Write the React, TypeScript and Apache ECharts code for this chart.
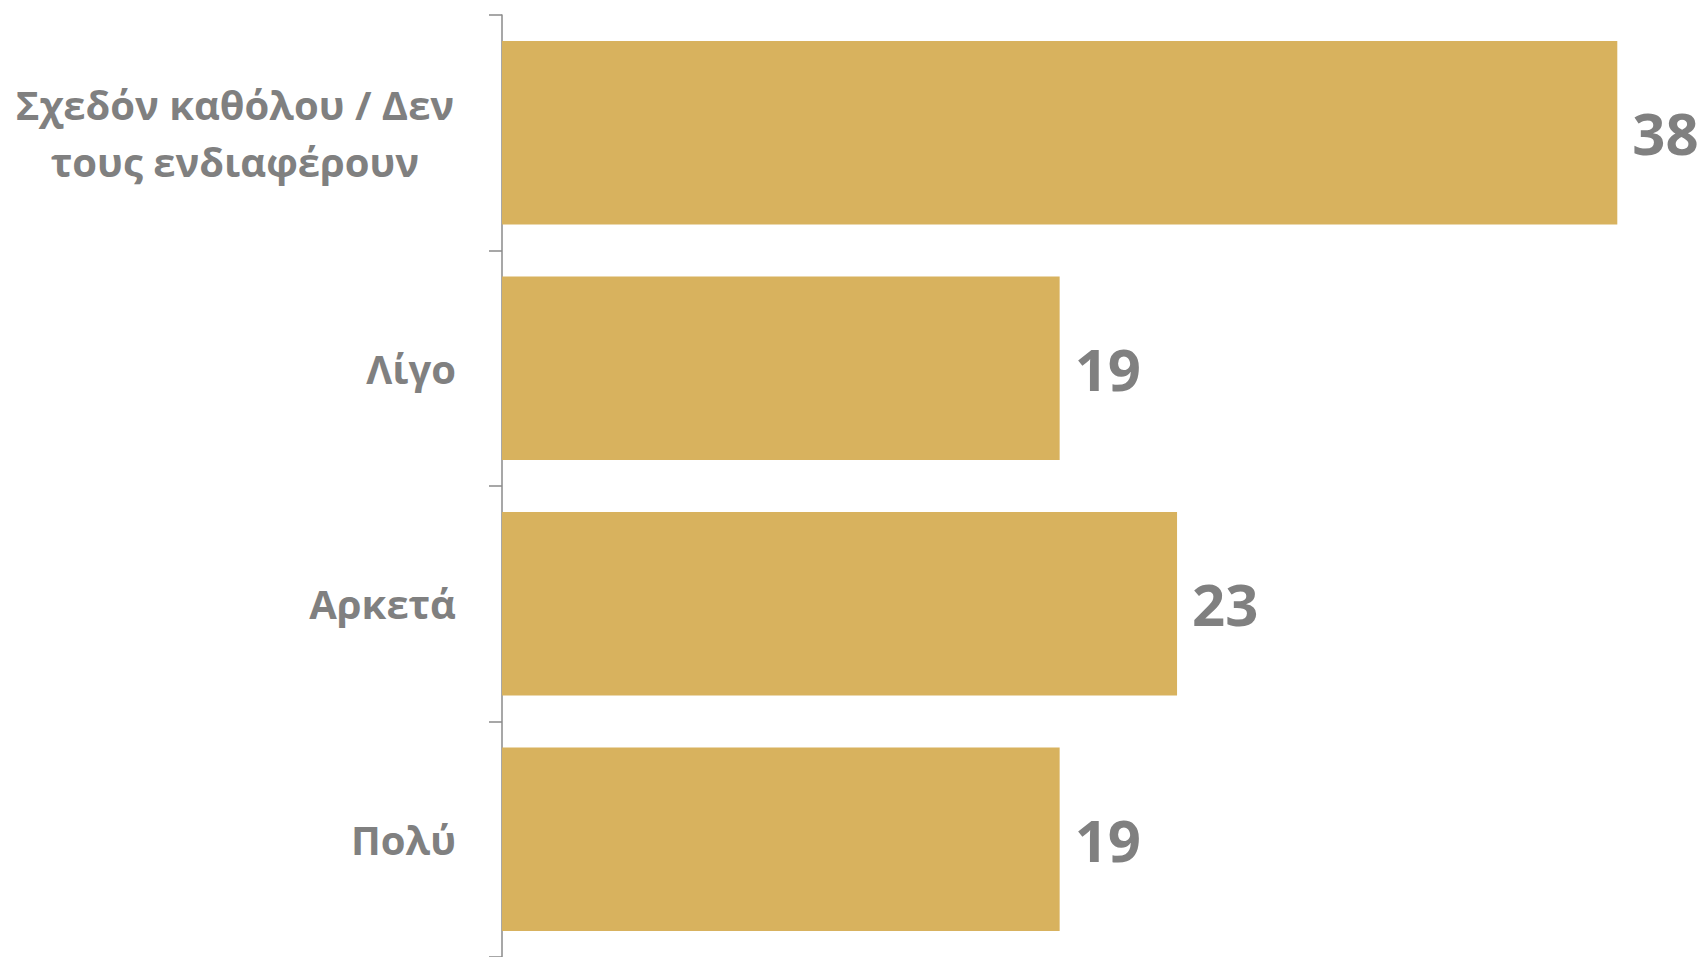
import React, { useEffect, useRef } from "react";
import * as echarts from "echarts";

const categories = ["Σχεδόν καθόλου / Δεν\nτους ενδιαφέρουν", "Λίγο", "Αρκετά", "Πολύ"];
const values = [38, 19, 23, 19];

const BAR_COLOR = "#D8B25E";
const TEXT_COLOR = "#808080";
const AXIS_COLOR = "#8a8a8a";
const FONT = "'Open Sans', 'Noto Sans', sans-serif";

export default function App() {
  const ref = useRef<HTMLDivElement>(null);
  useEffect(() => {
    if (!ref.current) return;
    const chart = echarts.init(ref.current, null, { renderer: "svg" });
    chart.setOption({
      animation: false,
      backgroundColor: "#ffffff",
      grid: { left: 502, right: 28, top: 15, height: 944, containLabel: false },
      xAxis: { type: "value", min: 0, max: 40, show: false },
      yAxis: {
        type: "category",
        inverse: true,
        data: categories,
        axisLine: { show: true, lineStyle: { color: AXIS_COLOR, width: 1.5 } },
        axisTick: {
          show: true,
          length: 13,
          interval: (i: number) => i < categories.length,
          lineStyle: { color: AXIS_COLOR, width: 1.5 },
        },
        splitLine: { show: false },
        axisLabel: {
          margin: 46,
          color: TEXT_COLOR,
          fontFamily: FONT,
          fontWeight: "bold",
          fontSize: 40,
          lineHeight: 57,
          formatter: (v: string) =>
            v.indexOf("\n") >= 0
              ? v.split("\n").map((l) => `{m|${l}}`).join("\n")
              : v,
          rich: {
            m: {
              width: 442,
              align: "center",
              color: TEXT_COLOR,
              fontFamily: FONT,
              fontWeight: "bold",
              fontSize: 40,
              lineHeight: 57,
            },
          },
        },
      },
      series: [
        {
          type: "bar",
          data: values,
          barCategoryGap: "22%",
          itemStyle: { color: BAR_COLOR },
          label: {
            show: true,
            position: "right",
            distance: 15,
            color: TEXT_COLOR,
            fontFamily: FONT,
            fontWeight: "bold",
            fontSize: 58,
          },
        },
      ],
    });
    return () => chart.dispose();
  }, []);
  return (
    <div
      ref={ref}
      style={{ position: "absolute", left: 0, top: 0, width: 1704, height: 957 }}
    />
  );
}
